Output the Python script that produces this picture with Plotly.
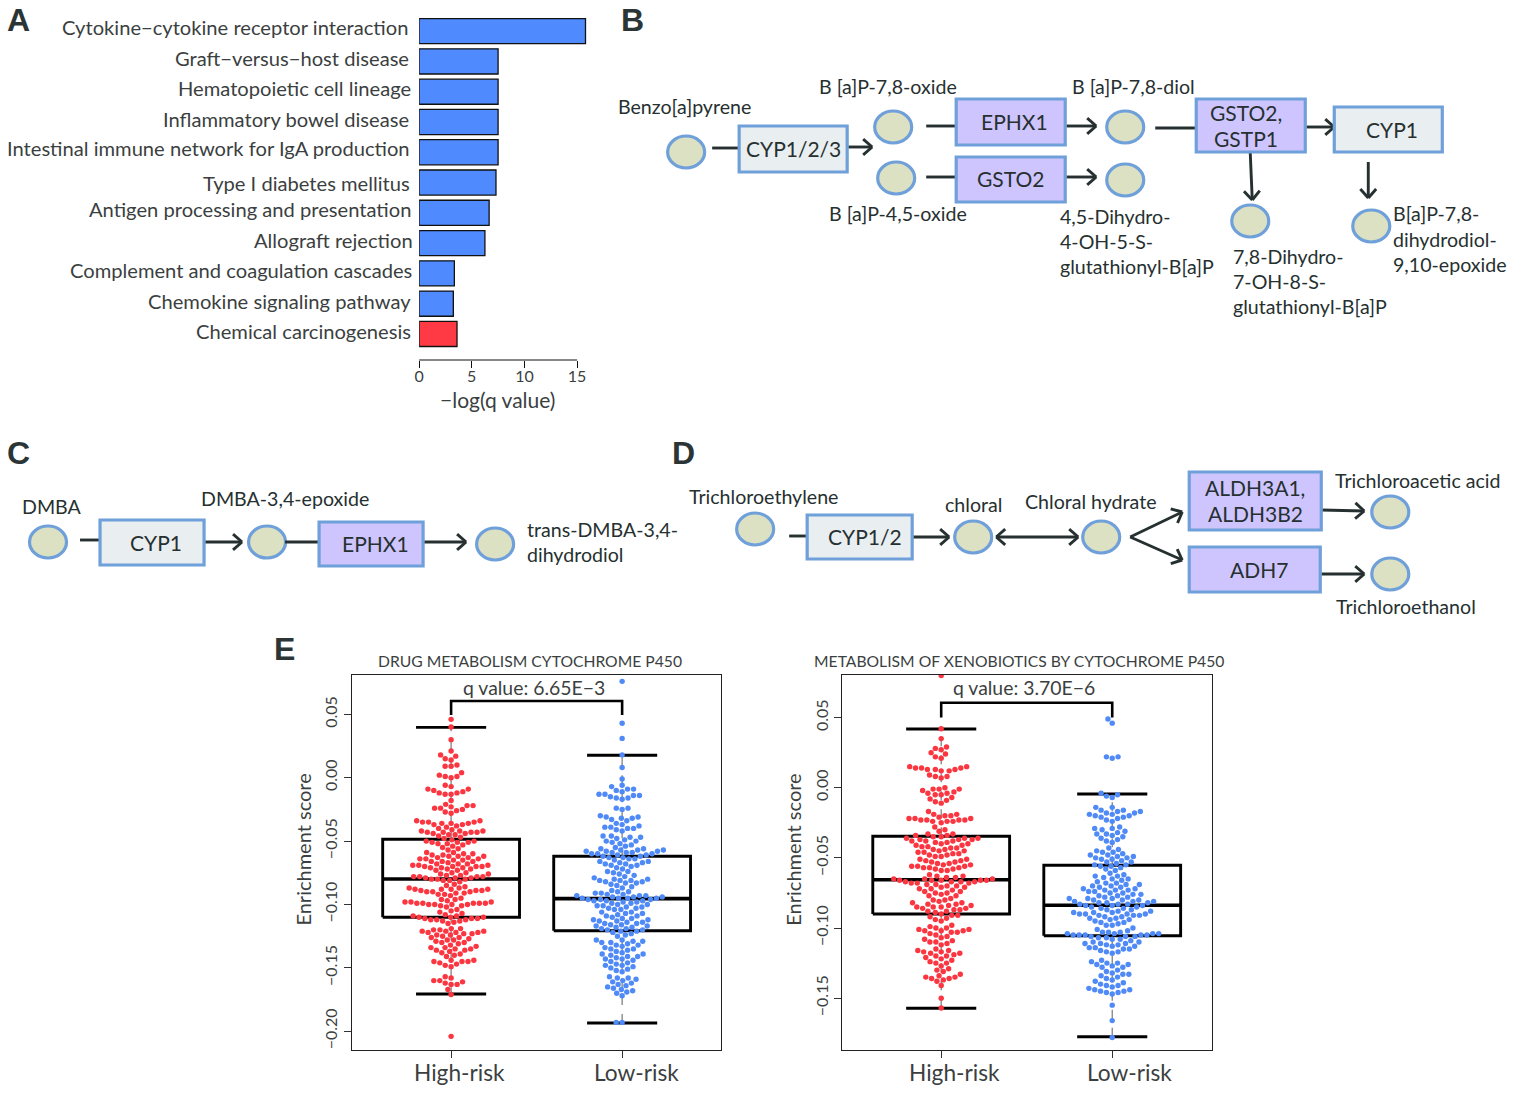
import numpy as np
import plotly.graph_objects as go

W, H = 1515, 1094
FONT = "Lato"
TXT = "#3b3f3f"
DARK = "#263030"
RED = "#fb3640"
BLUE = "#4f8af7"

# ---------- Panel A data
pathways = ["Cytokine−cytokine receptor interaction", "Graft−versus−host disease", "Hematopoietic cell lineage",
            "Inflammatory bowel disease", "Intestinal immune network for IgA production", "Type I diabetes mellitus",
            "Antigen processing and presentation", "Allograft rejection", "Complement and coagulation cascades",
            "Chemokine signaling pathway", "Chemical carcinogenesis"]
neglogq = [15.8, 7.5, 7.5, 7.5, 7.5, 7.3, 6.65, 6.25, 3.35, 3.25, 3.6]
bar_colors = ["#4f8aff"] * 10 + ["#ff3a45"]
qticks = [0, 5, 10, 15]

# ---------- Panel E data: enrichment scores
e1_high = [.046,.040,.030,.021,.018,.017,.015,.014,.010,.009,.009,.004,.002,.001,.001,.000,
-.006,-.007,-.009,-.009,-.010,-.011,-.012,-.012,-.013,-.013,
-.018,-.021,-.022,-.022,-.023,-.024,-.024,-.025,-.026,-.027,-.028,
-.034,-.034,-.035,-.035,-.035,-.036,-.036,-.036,-.037,-.037,-.038,-.039,-.040,
-.041,-.042,-.042,-.042,-.043,-.043,-.043,-.043,-.044,-.044,-.045,-.045,-.046,-.047,-.048,
-.049,-.050,-.050,-.051,-.051,-.051,-.052,-.052,-.053,-.054,-.055,-.056,-.057,
-.059,-.059,-.060,-.060,-.061,-.061,-.062,-.062,-.062,-.063,-.063,-.064,-.064,-.064,-.065,-.065,-.066,-.066,-.066,-.067,
-.068,-.068,-.068,-.069,-.069,-.069,-.070,-.070,-.070,-.070,-.071,-.071,-.071,-.072,-.072,-.073,-.073,
-.075,-.075,-.076,-.076,-.077,-.077,-.078,-.078,-.078,-.078,-.079,-.079,-.079,-.080,-.080,-.080,-.081,-.081,-.082,
-.084,-.085,-.086,-.087,-.087,-.088,-.088,-.088,-.088,-.089,-.089,-.089,-.090,-.090,-.090,-.091,-.091,-.092,-.092,-.093,
-.095,-.096,-.096,-.097,-.098,-.098,-.098,-.099,-.099,-.099,-.099,-.099,-.100,-.100,-.100,-.100,-.101,-.101,-.102,
-.104,-.105,-.106,-.107,-.108,-.109,-.109,-.110,-.110,-.110,-.111,-.111,-.111,-.112,-.112,-.112,-.113,-.113,-.114,-.115,
-.119,-.119,-.120,-.120,-.121,-.121,-.121,-.122,-.122,-.122,-.123,-.123,-.124,-.124,-.125,-.126,-.126,-.127,-.128,-.128,-.129,-.130,-.130,-.131,
-.132,-.133,-.134,-.134,-.135,-.135,-.136,-.136,-.137,-.138,-.139,-.140,-.141,
-.144,-.144,-.145,-.145,-.145,-.146,-.147,-.148,-.149,
-.157,-.158,-.160,-.160,-.161,-.162,-.163,-.163,-.167,-.171,-.204]
e1_low = [.076,.043,.031,.018,.008,-.001,-.006,-.007,-.009,-.009,-.010,-.011,-.013,-.013,-.014,-.014,-.015,-.016,-.016,-.017,
-.024,-.024,-.025,-.030,-.031,-.031,-.032,-.032,-.033,-.034,-.036,-.037,-.038,-.039,-.039,-.040,-.040,-.041,-.042,
-.046,-.046,-.047,-.047,-.048,-.049,-.050,-.050,-.051,-.052,-.053,-.054,-.055,
-.056,-.056,-.057,-.057,-.057,-.058,-.058,-.058,-.059,-.059,-.059,-.060,-.060,-.060,-.061,-.061,-.062,-.062,-.063,-.063,-.064,-.064,-.065,-.066,
-.066,-.067,-.067,-.068,-.068,-.069,-.069,-.070,-.071,-.072,-.074,-.074,-.075,-.076,-.077,-.078,
-.079,-.080,-.080,-.081,-.081,-.081,-.082,-.082,-.083,-.083,-.084,-.085,-.086,-.087,
-.089,-.090,-.090,-.091,-.091,-.092,-.092,-.093,-.093,-.093,-.094,-.094,-.094,-.095,-.095,-.095,-.095,-.096,-.096,-.096,-.097,-.097,-.097,-.098,-.098,-.099,-.099,-.100,-.100,-.101,-.101,-.102,-.102,-.103,-.103,-.104,-.104,
-.106,-.106,-.107,-.107,-.108,-.109,-.109,-.110,-.111,-.111,-.112,-.112,-.113,-.113,-.114,-.114,-.115,-.115,-.116,-.116,-.117,-.117,-.118,-.118,-.119,-.119,-.120,-.120,-.121,-.121,-.122,-.123,-.124,-.125,
-.128,-.128,-.129,-.129,-.130,-.130,-.131,-.132,-.132,-.133,-.134,-.135,-.135,-.136,-.137,-.138,-.139,-.139,-.140,-.141,-.141,-.142,-.143,-.143,-.144,-.145,-.146,-.147,-.148,-.148,-.149,-.150,-.151,-.152,-.153,
-.157,-.158,-.158,-.159,-.160,-.161,-.162,-.163,-.164,-.165,-.166,-.167,-.168,-.169,-.170,-.172,-.193,-.193]
e2_high = [.080,.042,.035,.029,.028,.027,.025,.024,.022,.021,.015,.015,.014,.014,.014,.013,.013,.013,.012,.012,.009,.008,.008,.007,
.000,-.001,-.001,-.001,-.002,-.003,-.004,-.004,-.005,-.005,-.007,-.008,-.009,-.010,-.011,
-.017,-.019,-.019,-.020,-.020,-.021,-.022,-.022,-.022,-.023,-.023,-.023,-.023,-.024,-.024,-.024,-.025,
-.028,-.030,-.031,-.033,-.033,-.034,-.034,-.035,-.035,-.036,-.036,-.036,-.037,-.037,-.037,-.038,-.038,-.038,-.039,-.039,-.040,-.040,-.041,-.041,-.042,-.042,-.043,-.043,-.044,-.044,-.045,-.045,-.046,-.046,-.047,-.047,-.048,-.048,-.049,-.049,
-.051,-.051,-.052,-.052,-.053,-.053,-.054,-.054,-.055,-.055,-.056,-.056,-.056,-.057,-.057,-.057,-.058,-.058,-.059,-.059,
-.062,-.063,-.063,-.064,-.064,-.065,-.065,-.065,-.066,-.066,-.066,-.066,-.066,-.067,-.067,-.067,-.067,-.068,-.068,-.068,-.069,-.069,-.070,-.070,-.071,-.071,-.072,-.072,-.073,-.074,-.074,-.075,-.075,-.076,-.077,-.077,
-.079,-.080,-.080,-.081,-.082,-.082,-.083,-.083,-.084,-.084,-.085,-.085,-.085,-.086,-.086,-.087,-.087,-.088,-.088,-.089,-.090,-.091,-.091,-.092,-.093,-.094,-.095,
-.098,-.099,-.100,-.100,-.101,-.101,-.102,-.102,-.102,-.103,-.103,-.104,-.105,-.106,-.107,-.108,-.109,-.110,-.110,-.111,-.112,
-.115,-.116,-.116,-.117,-.117,-.118,-.118,-.119,-.120,-.120,-.121,-.122,-.123,-.124,-.125,-.125,-.127,-.129,-.130,-.131,-.133,-.134,-.135,-.135,-.136,-.136,-.137,-.138,-.141,-.150,-.157]
e2_low = [.049,.046,.022,.022,.021,-.004,-.005,-.006,-.007,-.014,-.014,-.016,-.016,-.017,-.017,-.018,-.018,-.019,-.019,-.020,-.020,-.021,-.021,-.022,-.023,-.024,
-.028,-.029,-.029,-.030,-.031,-.032,-.033,-.033,-.034,-.035,-.036,-.037,-.038,-.039,
-.043,-.044,-.045,-.046,-.046,-.047,-.048,-.048,-.049,-.049,-.050,-.050,-.051,-.051,-.052,-.053,-.053,-.054,-.055,-.055,-.056,-.056,-.057,-.058,-.059,
-.061,-.062,-.063,-.063,-.064,-.065,-.065,-.066,-.067,-.068,-.068,-.069,-.069,-.070,-.070,-.071,-.071,-.072,-.072,-.073,-.073,-.073,-.074,-.074,-.075,-.075,-.076,-.076,-.077,-.077,-.078,-.078,
-.079,-.079,-.079,-.080,-.080,-.080,-.081,-.081,-.081,-.082,-.082,-.082,-.083,-.083,-.083,-.084,-.084,-.084,-.085,-.085,-.086,-.086,-.087,-.087,
-.088,-.088,-.089,-.089,-.089,-.090,-.090,-.090,-.090,-.091,-.091,-.091,-.092,-.092,-.093,-.093,-.094,-.094,-.095,-.096,-.096,-.097,-.098,-.098,
-.100,-.101,-.102,-.103,-.103,-.103,-.104,-.104,-.104,-.104,-.105,-.105,-.105,-.105,-.105,-.106,-.106,-.106,-.107,-.107,-.108,-.108,-.109,-.110,-.110,-.111,-.111,-.111,-.112,-.112,-.113,-.113,-.114,-.114,-.115,-.115,-.116,-.117,-.117,-.118,
-.123,-.124,-.125,-.125,-.126,-.126,-.127,-.128,-.128,-.130,-.131,-.132,-.133,-.133,-.134,-.135,-.136,-.137,-.138,-.139,-.140,-.141,-.141,-.142,-.143,-.144,-.144,-.145,-.145,-.146,-.146,-.147,-.155,-.166,-.178]

# box statistics: q1, median, q3, lower cap, upper cap
e1_high_box = [-.110, -.0799, -.0486, -.1706, .0397]
e1_low_box = [-.1207, -.0954, -.062, -.1935, .0177]
e2_high_box = [-.090, -.0656, -.0346, -.1572, .0418]
e2_low_box = [-.1055, -.0838, -.0553, -.1775, -.0045]
groups = ["High-risk", "Low-risk"]
e_titles = ["DRUG METABOLISM CYTOCHROME P450", "METABOLISM OF XENOBIOTICS BY CYTOCHROME P450"]
e_qvalues = ["q value: 6.65E−3", "q value: 3.70E−6"]
e1_yticks = [0.05, 0, -0.05, -0.10, -0.15, -0.20]
e2_yticks = [0.05, 0, -0.05, -0.10, -0.15]

# ---------- helpers
def X(p): return (p - 5 + 0.0035 * p) / W
def Y(p): return 1 - p / H

shapes, notes = [], []

def text(x, y, s, size=19.6, anchor="left", color=DARK, angle=0, family=FONT, bold=False):
    notes.append(dict(x=X(x), y=Y(y - 0.5), xref="paper", yref="paper", text=f"<b>{s}</b>" if bold else s, showarrow=False,
                      xanchor=anchor, yanchor="middle", textangle=angle, font=dict(family=family, size=size, color=color)))

def seg(x0, y0, x1, y1, width=2.9, color=DARK):
    shapes.append(dict(type="line", xref="paper", yref="paper", x0=X(x0), y0=Y(y0), x1=X(x1), y1=Y(y1),
                       line=dict(color=color, width=width)))

def head(x0, y0, x1, y1, size=12):
    a = np.arctan2(y1 - y0, x1 - x0)
    for s in (-1, 1):
        b = a + np.pi + s * 0.72
        seg(x1, y1, x1 + size * np.cos(b), y1 + size * np.sin(b))

def arrow(x0, y0, x1, y1):
    seg(x0, y0, x1, y1)
    head(x0, y0, x1, y1)

def box(x0, y0, x1, y1, label, kind="enzyme", label_x=None):
    fill = "#cfc5fe" if kind == "enzyme" else "#e9eef0"
    shapes.append(dict(type="rect", xref="paper", yref="paper", x0=X(x0), x1=X(x1), y0=Y(y0), y1=Y(y1),
                       fillcolor=fill, line=dict(color="#6fa0da", width=3.2)))
    lines = label.split("|")
    cy = (y0 + y1) / 2
    cx = label_x if label_x else (x0 + x1) / 2
    for i, s in enumerate(lines):
        text(cx, cy + (i - (len(lines) - 1) / 2) * 26, s, size=21, anchor="center")

def node(x, y):
    shapes.append(dict(type="circle", xref="paper", yref="paper", x0=X(x - 18.5), x1=X(x + 18.5), y0=Y(y - 16), y1=Y(y + 16),
                       fillcolor="#dde1c4", line=dict(color="#6fa0da", width=3.2)))

def swarm(values, sy, d=6.0):
    vals = np.array(values)
    ys = vals * sy
    order = np.argsort(ys, kind="stable")
    placed, out = [], np.zeros(len(vals))
    for i in order:
        forb = []
        for px, py in placed:
            dy = abs(ys[i] - py)
            if dy < d:
                w = np.sqrt(d * d - dy * dy)
                forb.append((px - w, px + w))
        cands = [0.0] + [e for f in forb for e in f]
        ok = [c for c in cands if not any(a + 1e-9 < c < b - 1e-9 for a, b in forb)]
        best = min(ok, key=lambda c: (abs(c), c))
        out[i] = best
        placed.append((best, ys[i]))
    return vals, out

fig = go.Figure()

# ---------- Panel A
fig.add_trace(go.Bar(x=neglogq, y=pathways, orientation="h", width=0.83, xaxis="x", yaxis="y",
                     marker=dict(color=bar_colors, line=dict(color="#111", width=1.3)), showlegend=False))
label_ends = [410, 411, 413, 411, 412, 412, 413, 415, 414, 413, 413]
label_ys = [28, 58, 89, 119, 149, 183, 210, 240, 271, 301, 331]
for s, xe, yc in zip(pathways, label_ends, label_ys):
    text(xe, yc, s, size=20.15, anchor="right", color=TXT)
shapes.append(dict(type="line", xref="x", yref="paper", x0=0, x1=15, y0=Y(360), y1=Y(360), line=dict(color="#111", width=1)))
text(497, 400, "−log(q value)", size=21, anchor="center", color=TXT)

# ---------- Panel E
def panel_e(xa, ya, high, low, hb, lb, sy, top_b, bot_b):
    for vals_in, col, bx, pos in ((high, RED, hb, 1), (low, BLUE, lb, 2)):
        q1, med, q3, lo, up = bx
        fig.add_trace(go.Scatter(x=[pos, pos], y=[lo, q1], mode="lines", line=dict(color="#777", width=1.2, dash="dash"),
                                 xaxis=xa, yaxis=ya, showlegend=False, hoverinfo="skip"))
        fig.add_trace(go.Scatter(x=[pos, pos], y=[q3, up], mode="lines", line=dict(color="#777", width=1.2, dash="dash"),
                                 xaxis=xa, yaxis=ya, showlegend=False, hoverinfo="skip"))
        fig.add_trace(go.Scatter(x=[pos - .4, pos + .4, pos + .4, pos - .4, pos - .4], y=[q1, q1, q3, q3, q1], mode="lines",
                                 line=dict(color="#000", width=2.9), xaxis=xa, yaxis=ya, showlegend=False, hoverinfo="skip"))
        for v, w in ((med, 3.6), (lo, 2.9), (up, 2.9)):
            half = .4 if v == med else .205
            fig.add_trace(go.Scatter(x=[pos - half, pos + half], y=[v, v], mode="lines", line=dict(color="#000", width=w),
                                     xaxis=xa, yaxis=ya, showlegend=False, hoverinfo="skip"))
        vals, off = swarm(vals_in, sy)
        fig.add_trace(go.Scatter(x=pos + off / 171.0, y=vals, mode="markers", marker=dict(color=col, size=5.4),
                                 xaxis=xa, yaxis=ya, showlegend=False, hoverinfo="skip"))
    fig.add_trace(go.Scatter(x=[1, 1, 2, 2], y=[bot_b, top_b, top_b, bot_b], mode="lines", line=dict(color="#000", width=2.6),
                             xaxis=xa, yaxis=ya, showlegend=False, hoverinfo="skip"))

panel_e("x2", "y2", e1_high, e1_low, e1_high_box, e1_low_box, 1268, .0605, .0495)
panel_e("x3", "y3", e2_high, e2_low, e2_high_box, e2_low_box, 1403, .0605, .0500)

text(530, 661, e_titles[0], size=15.7, anchor="center", color=TXT)
text(1018.5, 661, e_titles[1], size=15.7, anchor="center", color=TXT)
text(534, 688, e_qvalues[0], size=19.4, anchor="center", color=TXT)
text(1024, 688, e_qvalues[1], size=19.4, anchor="center", color=TXT)
text(302, 850, "Enrichment score", size=20, anchor="center", color=TXT, angle=-90)
text(792, 850, "Enrichment score", size=20, anchor="center", color=TXT, angle=-90)
for cx, s in zip((459, 636, 954, 1129), groups * 2):
    text(cx, 1073, s, size=22.7, anchor="center", color=TXT)

# ---------- Panel letters
for x, y, s in ((18, 20, "A"), (632, 20, "B"), (18, 453, "C"), (683, 453, "D"), (284, 649, "E")):
    text(x, y, s, size=32, anchor="center", color="#2b3535", family="Liberation Sans", bold=True)

# ---------- Panel B
for x, y in ((686, 152), (893, 127), (896, 178), (1125, 127), (1125, 180), (1250, 221), (1371, 226)):
    node(x, y)
seg(712, 148, 738, 148); seg(926, 126, 955, 126); seg(926, 177, 955, 177); seg(1155, 128, 1196, 128)
arrow(848, 147, 872, 147); arrow(1066, 126, 1096, 126); arrow(1066, 177, 1096, 177); arrow(1306, 127, 1334, 127)
arrow(1250, 153, 1252, 200); arrow(1368, 162, 1368, 198)
box(739, 126, 847, 172, "CYP1/2/3", "cyp", 793.5); box(956, 99, 1065, 145, "EPHX1", label_x=1014); box(956, 157, 1065, 202, "GSTO2")
box(1196, 99, 1305, 152, "GSTO2,|GSTP1", label_x=1246); box(1334, 107, 1442, 152, "CYP1", "cyp", 1392)
for x, y, s in ((616, 107, "Benzo[a]pyrene"), (817, 87, "B [a]P-7,8-oxide"), (1070, 87, "B [a]P-7,8-diol"), (827, 214, "B [a]P-4,5-oxide"),
                (1058, 217, "4,5-Dihydro-"), (1058, 242, "4-OH-5-S-"), (1058, 267, "glutathionyl-B[a]P"),
                (1231, 257, "7,8-Dihydro-"), (1231, 282, "7-OH-8-S-"), (1231, 307, "glutathionyl-B[a]P"),
                (1391, 214, "B[a]P-7,8-"), (1391, 240, "dihydrodiol-"), (1391, 265, "9,10-epoxide")):
    text(x, y, s)

# ---------- Panel C
for x, y in ((48, 542), (267, 542), (495, 544)):
    node(x, y)
seg(80, 540, 99, 540); seg(285, 542, 318, 542)
arrow(205, 542, 242, 542); arrow(424, 542, 466, 542)
box(100, 520, 204, 565, "CYP1", "cyp", 156); box(319, 522, 423, 566, "EPHX1", label_x=375.5)
for x, y, s in ((20, 507, "DMBA"), (199, 499, "DMBA-3,4-epoxide"), (525, 530, "trans-DMBA-3,4-"), (525, 555, "dihydrodiol")):
    text(x, y, s)

# ---------- Panel D
for x, y in ((755, 529), (973, 537), (1101, 537), (1390, 512), (1390, 574)):
    node(x, y)
seg(789, 536, 807, 536)
arrow(913, 537, 949, 537); arrow(996, 537, 1078, 537); head(1078, 537, 996, 537)
arrow(1130, 537, 1182, 512); arrow(1130, 537, 1182, 560)
arrow(1321, 510, 1364, 511); arrow(1321, 574, 1364, 574)
box(807, 515, 912, 559, "CYP1/2", "cyp", 865); box(1189, 472, 1321, 530, "ALDH3A1,|ALDH3B2"); box(1189, 547, 1320, 592, "ADH7", label_x=1259)
for x, y, s in ((687, 497, "Trichloroethylene"), (943, 505, "chloral"), (1023, 502, "Chloral hydrate"),
                (1333, 481, "Trichloroacetic acid"), (1334, 607, "Trichloroethanol")):
    text(x, y, s)

# ---------- Layout
tickf = dict(family=FONT, size=16, color=TXT)
def box_y(lo_px, hi_px): return [1 - hi_px / H, 1 - lo_px / H]

layout = dict(
    width=W, height=H, margin=dict(l=0, r=0, t=0, b=0), paper_bgcolor="white", plot_bgcolor="rgba(0,0,0,0)",
    shapes=shapes, annotations=notes, bargap=0.17, showlegend=False, font=dict(family=FONT),
    xaxis=dict(domain=[X(419), X(590)], range=[0, 171 / 10.53], anchor="y", tickvals=qticks, ticks="outside", ticklen=7,
               tickcolor="#111", showline=False, showgrid=False, zeroline=False, tickfont=tickf, ticklabelstandoff=-5),
    yaxis=dict(domain=box_y(16, 360), range=[10.86, -0.5], type="category", categoryorder="array", categoryarray=pathways,
               anchor="x", showticklabels=False, ticks="", showline=False, showgrid=False, zeroline=False),
)
for n, xl, xr, c1, sy, v0, yt in ((2, 351.7, 721, 451, 1268, 777.7, e1_yticks), (3, 842, 1211.3, 941, 1403, 787.7, e2_yticks)):
    layout[f"xaxis{n}"] = dict(domain=[X(xl), X(xr)], range=[1 - (c1 - xl) / 171, 1 + (xr - c1) / 171], anchor=f"y{n}",
                               tickvals=[1, 2], ticktext=["", ""], ticks="outside", ticklen=7, tickcolor="#333",
                               showline=True, mirror=True, linecolor="#222", linewidth=1.2, showgrid=False, zeroline=False)
    layout[f"yaxis{n}"] = dict(domain=box_y(675, 1050.3), range=[(v0 - 1050.3) / sy, (v0 - 675) / sy], anchor=f"x{n}",
                               tickvals=yt, tickformat=".2f", tickangle=-90, ticks="outside", ticklen=7, tickcolor="#333",
                               tickfont=tickf, showline=True, mirror=True, linecolor="#222", linewidth=1.2,
                               showgrid=False, zeroline=False)
fig.update_layout(**layout)
fig.write_html("out.html", config=dict(displayModeBar=False), post_script="document.body.style.margin='0';")
